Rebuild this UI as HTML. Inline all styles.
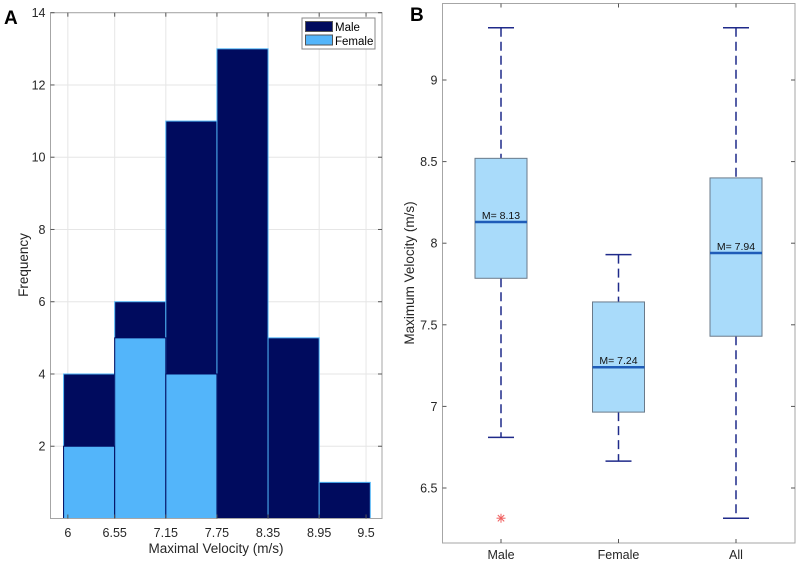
<!DOCTYPE html>
<html><head><meta charset="utf-8"><style>
html,body{margin:0;padding:0;background:#fff;width:798px;height:563px;overflow:hidden}
svg{display:block;font-family:"Liberation Sans",Arial,sans-serif}
</style></head><body>
<svg id="chart" width="798" height="563" viewBox="0 0 798 563" xmlns="http://www.w3.org/2000/svg">
<g id="histA"></g>
<g id="boxB"></g>
</svg>
<script>
// Histogram data
const binEdges = [5.95, 6.55, 7.15, 7.75, 8.35, 8.95, 9.55];
const maleCounts = [4, 6, 11, 13, 5, 1];
const femaleCounts = [2, 5, 4, 0, 0, 0];
const histXTicks = [6, 6.55, 7.15, 7.75, 8.35, 8.95, 9.5];
const histXTickLabels = ["6", "6.55", "7.15", "7.75", "8.35", "8.95", "9.5"];
const histYTicks = [2, 4, 6, 8, 10, 12, 14];
// Boxplot data
const groups = ["Male", "Female", "All"];
const whiskerHigh = [9.32, 7.93, 9.32];
const q3 = [8.52, 7.64, 8.40];
const medians = [8.13, 7.24, 7.94];
const q1 = [7.785, 6.965, 7.43];
const whiskerLow = [6.81, 6.665, 6.315];
const outliers = [[6.315], [], []];
const medianLabels = ["M= 8.13", "M= 7.24", "M= 7.94"];
const boxYTicks = [6.5, 7, 7.5, 8, 8.5, 9];
const boxYTickLabels = ["6.5", "7", "7.5", "8", "8.5", "9"];

const NS = "http://www.w3.org/2000/svg";
function mk(parent, tag, attrs, text) {
  const e = document.createElementNS(NS, tag);
  for (const k in attrs) e.setAttribute(k, attrs[k]);
  if (text !== undefined) e.textContent = text;
  parent.appendChild(e);
  return e;
}

// ---- Panel A ----
const A = document.getElementById('histA');
const aL = 50.5, aR = 382, aT = 12.7, aB = 518.5;
const ax = v => 114.7 + (v - 6.55) * 85.2;
const ay = v => aB - (v / 14) * (aB - aT);
mk(A, 'rect', {x: aL, y: aT, width: aR - aL, height: aB - aT, fill: '#fff'});
histXTicks.forEach(t => {
  const g = mk(A, 'line', {x1: ax(t), x2: ax(t), y1: aT, y2: aB, stroke: '#e6e6e6', 'stroke-width': 1});
  
  
});
histYTicks.forEach(t => {
  const g = mk(A, 'line', {x1: aL, x2: aR, y1: ay(t), y2: ay(t), stroke: '#e6e6e6', 'stroke-width': 1});
  
  
});
maleCounts.forEach((c, i) => {
  const r = mk(A, 'rect', {x: ax(binEdges[i]), y: ay(c), width: ax(binEdges[i + 1]) - ax(binEdges[i]), height: aB - ay(c), fill: '#000b5e', stroke: '#4fb4f5', 'stroke-width': 1});
  
  
});
femaleCounts.forEach((c, i) => {
  if (c <= 0) return;
  const r = mk(A, 'rect', {x: ax(binEdges[i]), y: ay(c), width: ax(binEdges[i + 1]) - ax(binEdges[i]), height: aB - ay(c), fill: '#53b5fa', stroke: '#000b5e', 'stroke-width': 1});
  
  
});
mk(A, 'rect', {x: aL, y: aT, width: aR - aL, height: aB - aT, fill: 'none', stroke: '#a6a6a6', 'stroke-width': 1});
histXTicks.forEach((t, i) => {
  mk(A, 'line', {x1: ax(t), x2: ax(t), y1: aB, y2: aB - 4, stroke: '#555'});
  mk(A, 'line', {x1: ax(t), x2: ax(t), y1: aT, y2: aT + 4, stroke: '#555'});
  const l = mk(A, 'text', {x: ax(t), y: 537, 'text-anchor': 'middle', 'font-size': 12.5, fill: '#262626'}, histXTickLabels[i]);
  
  
});
histYTicks.forEach(t => {
  mk(A, 'line', {x1: aL, x2: aL + 4, y1: ay(t), y2: ay(t), stroke: '#555'});
  mk(A, 'line', {x1: aR, x2: aR - 4, y1: ay(t), y2: ay(t), stroke: '#555'});
  const l = mk(A, 'text', {x: aL - 5, y: ay(t) + 4.5, 'text-anchor': 'end', 'font-size': 12.5, fill: '#262626'}, String(t));
  
  
});
mk(A, 'text', {x: 216, y: 553, 'text-anchor': 'middle', 'font-size': 13.5, fill: '#262626',  }, 'Maximal Velocity (m/s)');
mk(A, 'text', {x: 28, y: 265, 'text-anchor': 'middle', 'font-size': 13.5, fill: '#262626', transform: 'rotate(-90 28 265)',  }, 'Frequency');
mk(A, 'text', {x: 4, y: 24, 'font-size': 19, 'font-weight': 'bold', fill: '#000',  }, 'A');
const leg = mk(A, 'g', { });
mk(leg, 'rect', {x: 302, y: 18, width: 73, height: 31, fill: '#fff', stroke: '#888'});
mk(leg, 'rect', {x: 305.5, y: 21.5, width: 27, height: 10, fill: '#000b5e', stroke: '#555',  });
mk(leg, 'rect', {x: 305.5, y: 35, width: 27, height: 10, fill: '#53b5fa', stroke: '#555',  });
mk(leg, 'text', {x: 335, y: 31, 'font-size': 11.5, fill: '#000',  }, 'Male');
mk(leg, 'text', {x: 335, y: 45, 'font-size': 11.5, fill: '#000',  }, 'Female');

// ---- Panel B ----
const B = document.getElementById('boxB');
const bL = 442.5, bR = 795, bT = 3.5, bB = 543;
const byv = v => 80 + (9 - v) * 163.2;
const bx = i => 501 + i * 117.5;
mk(B, 'rect', {x: bL, y: bT, width: bR - bL, height: bB - bT, fill: '#fff', stroke: '#a6a6a6', 'stroke-width': 1});
boxYTicks.forEach((t, i) => {
  mk(B, 'line', {x1: bL, x2: bL + 4, y1: byv(t), y2: byv(t), stroke: '#555'});
  mk(B, 'line', {x1: bR, x2: bR - 4, y1: byv(t), y2: byv(t), stroke: '#555'});
  const l = mk(B, 'text', {x: bL - 5, y: byv(t) + 4.5, 'text-anchor': 'end', 'font-size': 12.5, fill: '#262626'}, boxYTickLabels[i]);
  
  
});
groups.forEach((g, i) => {
  const cx = bx(i);
  mk(B, 'line', {x1: cx, x2: cx, y1: bB, y2: bB - 4, stroke: '#555'});
  mk(B, 'line', {x1: cx, x2: cx, y1: bT, y2: bT + 4, stroke: '#555'});
  const lab = mk(B, 'text', {x: cx, y: 559, 'text-anchor': 'middle', 'font-size': 12.5, fill: '#262626'}, g);
  
  
  const grp = mk(B, 'g', {});
  
  
  mk(grp, 'line', {x1: cx, x2: cx, y1: byv(whiskerHigh[i]), y2: byv(q3[i]), stroke: '#1f2a8a', 'stroke-width': 1.5, 'stroke-dasharray': '9,5'});
  mk(grp, 'line', {x1: cx, x2: cx, y1: byv(q1[i]), y2: byv(whiskerLow[i]), stroke: '#1f2a8a', 'stroke-width': 1.5, 'stroke-dasharray': '9,5'});
  mk(grp, 'line', {x1: cx - 13, x2: cx + 13, y1: byv(whiskerHigh[i]), y2: byv(whiskerHigh[i]), stroke: '#1f2a8a', 'stroke-width': 1.5});
  mk(grp, 'line', {x1: cx - 13, x2: cx + 13, y1: byv(whiskerLow[i]), y2: byv(whiskerLow[i]), stroke: '#1f2a8a', 'stroke-width': 1.5});
  mk(grp, 'rect', {x: cx - 26, y: byv(q3[i]), width: 52, height: byv(q1[i]) - byv(q3[i]), fill: '#a9dbfa', stroke: '#6a7a8a', 'stroke-width': 1});
  mk(grp, 'line', {x1: cx - 26, x2: cx + 26, y1: byv(medians[i]), y2: byv(medians[i]), stroke: '#1f5cb8', 'stroke-width': 2.5});
  mk(grp, 'text', {x: cx, y: byv(medians[i]) - 3, 'text-anchor': 'middle', 'font-size': 10.5, fill: '#111'}, medianLabels[i]);
  outliers[i].forEach(o => {
    const oy = byv(o);
    const s = mk(grp, 'g', {stroke: '#f06060', 'stroke-width': 1});
    
    
    mk(s, 'line', {x1: cx - 4.5, x2: cx + 4.5, y1: oy, y2: oy});
    mk(s, 'line', {x1: cx, x2: cx, y1: oy - 4.5, y2: oy + 4.5});
    mk(s, 'line', {x1: cx - 3.2, x2: cx + 3.2, y1: oy - 3.2, y2: oy + 3.2});
    mk(s, 'line', {x1: cx - 3.2, x2: cx + 3.2, y1: oy + 3.2, y2: oy - 3.2});
  });
});
mk(B, 'text', {x: 414, y: 273, 'text-anchor': 'middle', 'font-size': 13.5, fill: '#262626', transform: 'rotate(-90 414 273)',  }, 'Maximum Velocity (m/s)');
mk(B, 'text', {x: 410, y: 21, 'font-size': 19, 'font-weight': 'bold', fill: '#000',  }, 'B');
</script>
</body></html>
